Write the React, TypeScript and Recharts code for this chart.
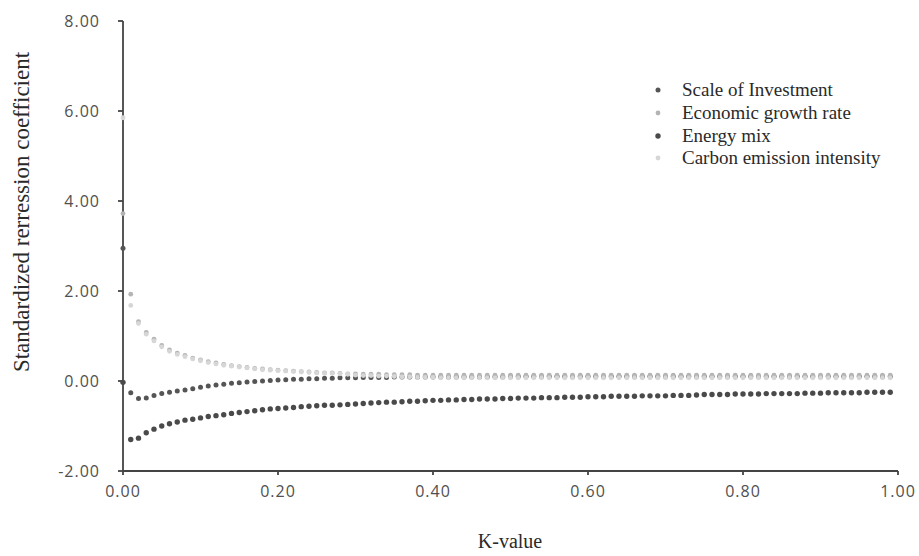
import { ScatterChart, Scatter, XAxis, YAxis } from 'recharts'

// ridge parameter k
const kValues = [
  0.0, 0.01, 0.02, 0.03, 0.04, 0.05, 0.06, 0.07, 0.08, 0.09,
  0.1, 0.11, 0.12, 0.13, 0.14, 0.15, 0.16, 0.17, 0.18, 0.19,
  0.2, 0.21, 0.22, 0.23, 0.24, 0.25, 0.26, 0.27, 0.28, 0.29,
  0.3, 0.31, 0.32, 0.33, 0.34, 0.35, 0.36, 0.37, 0.38, 0.39,
  0.4, 0.41, 0.42, 0.43, 0.44, 0.45, 0.46, 0.47, 0.48, 0.49,
  0.5, 0.51, 0.52, 0.53, 0.54, 0.55, 0.56, 0.57, 0.58, 0.59,
  0.6, 0.61, 0.62, 0.63, 0.64, 0.65, 0.66, 0.67, 0.68, 0.69,
  0.7, 0.71, 0.72, 0.73, 0.74, 0.75, 0.76, 0.77, 0.78, 0.79,
  0.8, 0.81, 0.82, 0.83, 0.84, 0.85, 0.86, 0.87, 0.88, 0.89,
  0.9, 0.91, 0.92, 0.93, 0.94, 0.95, 0.96, 0.97, 0.98, 0.99,
]

const scaleOfInvestment = [
  2.95, -0.26, -0.39, -0.38, -0.32, -0.28, -0.25, -0.22, -0.2, -0.17,
  -0.14, -0.11, -0.09, -0.07, -0.05, -0.04, -0.02, -0.01, 0.0, 0.01,
  0.02, 0.03, 0.04, 0.04, 0.05, 0.05, 0.06, 0.06, 0.07, 0.07,
  0.07, 0.08, 0.08, 0.08, 0.08, 0.09, 0.09, 0.09, 0.09, 0.09,
  0.09, 0.09, 0.09, 0.09, 0.09, 0.09, 0.09, 0.09, 0.09, 0.09,
  0.1, 0.1, 0.1, 0.1, 0.1, 0.1, 0.1, 0.1, 0.1, 0.1,
  0.1, 0.1, 0.1, 0.1, 0.1, 0.1, 0.1, 0.1, 0.1, 0.1,
  0.1, 0.1, 0.1, 0.1, 0.1, 0.1, 0.1, 0.1, 0.1, 0.1,
  0.1, 0.1, 0.1, 0.1, 0.1, 0.1, 0.1, 0.1, 0.1, 0.1,
  0.1, 0.1, 0.1, 0.1, 0.1, 0.1, 0.1, 0.1, 0.1, 0.1,
]

const economicGrowthRate = [
  3.72, 1.93, 1.32, 1.08, 0.93, 0.79, 0.69, 0.62, 0.57, 0.51,
  0.47, 0.43, 0.4, 0.37, 0.34, 0.32, 0.3, 0.28, 0.27, 0.25,
  0.24, 0.23, 0.22, 0.21, 0.2, 0.19, 0.18, 0.18, 0.17, 0.16,
  0.16, 0.15, 0.15, 0.15, 0.14, 0.14, 0.14, 0.14, 0.13, 0.13,
  0.13, 0.13, 0.13, 0.13, 0.13, 0.13, 0.13, 0.13, 0.13, 0.13,
  0.13, 0.13, 0.13, 0.13, 0.13, 0.13, 0.13, 0.13, 0.13, 0.13,
  0.13, 0.13, 0.13, 0.13, 0.13, 0.13, 0.13, 0.13, 0.13, 0.13,
  0.13, 0.13, 0.13, 0.13, 0.13, 0.13, 0.13, 0.13, 0.13, 0.13,
  0.13, 0.13, 0.13, 0.13, 0.13, 0.13, 0.13, 0.13, 0.13, 0.13,
  0.13, 0.13, 0.13, 0.13, 0.13, 0.13, 0.13, 0.13, 0.13, 0.13,
]

const energyMix = [
  -0.03, -1.3, -1.27, -1.15, -1.07, -1.0, -0.95, -0.91, -0.87, -0.85,
  -0.82, -0.79, -0.77, -0.75, -0.72, -0.7, -0.68, -0.66, -0.64, -0.62,
  -0.61, -0.6, -0.59, -0.57, -0.56, -0.55, -0.54, -0.54, -0.53, -0.52,
  -0.51, -0.5, -0.49, -0.48, -0.47, -0.47, -0.46, -0.45, -0.45, -0.44,
  -0.43, -0.43, -0.42, -0.42, -0.41, -0.41, -0.4, -0.4, -0.4, -0.39,
  -0.39, -0.38, -0.38, -0.38, -0.37, -0.37, -0.37, -0.36, -0.36, -0.36,
  -0.35, -0.35, -0.35, -0.34, -0.34, -0.34, -0.34, -0.33, -0.33, -0.33,
  -0.33, -0.32, -0.32, -0.32, -0.31, -0.3, -0.3, -0.3, -0.3, -0.29,
  -0.29, -0.29, -0.29, -0.28, -0.28, -0.28, -0.28, -0.28, -0.27, -0.27,
  -0.27, -0.26, -0.26, -0.26, -0.26, -0.26, -0.25, -0.25, -0.25, -0.25,
]

const carbonEmissionIntensity = [
  5.85, 1.68, 1.28, 1.04, 0.89, 0.76, 0.66, 0.59, 0.54, 0.49,
  0.45, 0.41, 0.38, 0.35, 0.33, 0.31, 0.29, 0.27, 0.25, 0.24,
  0.23, 0.22, 0.21, 0.2, 0.19, 0.18, 0.17, 0.17, 0.16, 0.15,
  0.13, 0.12, 0.12, 0.11, 0.11, 0.1, 0.09, 0.09, 0.08, 0.08,
  0.08, 0.07, 0.07, 0.07, 0.07, 0.07, 0.07, 0.07, 0.07, 0.07,
  0.07, 0.07, 0.07, 0.07, 0.07, 0.07, 0.07, 0.07, 0.07, 0.07,
  0.07, 0.07, 0.07, 0.07, 0.07, 0.07, 0.07, 0.07, 0.07, 0.07,
  0.07, 0.07, 0.07, 0.07, 0.07, 0.07, 0.07, 0.07, 0.07, 0.07,
  0.07, 0.07, 0.07, 0.07, 0.07, 0.07, 0.07, 0.07, 0.07, 0.07,
  0.07, 0.07, 0.07, 0.07, 0.07, 0.07, 0.07, 0.07, 0.07, 0.07,
]

const xTicks = [0, 0.2, 0.4, 0.6, 0.8, 1]
const yTicks = [-2, 0, 2, 4, 6, 8]

// legend order
const SERIES = [
  { name: 'Scale of Investment', values: scaleOfInvestment, color: '#555555', r: 2.5 },
  { name: 'Economic growth rate', values: economicGrowthRate, color: '#b4b4b4', r: 2.4 },
  { name: 'Energy mix', values: energyMix, color: '#4a4a4a', r: 2.7 },
  { name: 'Carbon emission intensity', values: carbonEmissionIntensity, color: '#d6d6d6', r: 2.4 },
]

// dark ones first so the light ones sit on top
const DRAW_ORDER = [0, 2, 1, 3]

const SERIF = '"Liberation Serif", "Times New Roman", serif'
const SANS = '"Open Sans", sans-serif'

const tickStyle = { fill: '#505050', fontSize: 16, fontFamily: SANS, letterSpacing: 1 }
const axisStroke = { stroke: '#444', strokeWidth: 1.8 }

export default function App() {
  return (
    <div style={{ position: 'absolute', left: 0, top: 0, width: 919, height: 556, background: '#fff' }}>
      <ScatterChart width={919} height={556} margin={{ top: 21, right: 21, bottom: 0, left: 0 }}>
        <XAxis
          type="number"
          dataKey="k"
          domain={[0, 1]}
          ticks={xTicks}
          tickFormatter={(v: number) => v.toFixed(2)}
          height={85}
          tick={tickStyle}
          tickSize={4}
          tickMargin={11}
          axisLine={axisStroke}
          tickLine={axisStroke}
          label={() => (
            <text x={510} y={548} textAnchor="middle" fontFamily={SERIF} fontSize={20} fill="#2a2a2a">
              K-value
            </text>
          )}
        />
        <YAxis
          type="number"
          dataKey="v"
          domain={[-2, 8]}
          ticks={yTicks}
          tickFormatter={(v: number) => v.toFixed(2)}
          width={123}
          tick={tickStyle}
          tickSize={5}
          tickMargin={18}
          axisLine={axisStroke}
          tickLine={axisStroke}
          label={() => (
            <text
              x={29}
              y={212}
              transform="rotate(-90 29 212)"
              textAnchor="middle"
              fontFamily={SERIF}
              fontSize={23}
              fill="#2a2a2a"
            >
              Standardized rerression coefficient
            </text>
          )}
        />
        {DRAW_ORDER.map((i) => {
          const s = SERIES[i]
          const data = kValues.map((k, j) => ({ k, v: s.values[j] }))
          return (
            <Scatter
              key={s.name}
              name={s.name}
              data={data}
              isAnimationActive={false}
              shape={(p: any) => <circle cx={p.cx} cy={p.cy} r={s.r} fill={s.color} />}
            />
          )
        })}
      </ScatterChart>
      <div style={{ position: 'absolute', left: 650, top: 79, fontFamily: SERIF, fontSize: 19, color: '#2a2a2a' }}>
        {SERIES.map((s) => (
          <div key={s.name} style={{ display: 'flex', alignItems: 'center', height: 22.7 }}>
            <svg width={32} height={10}>
              <circle cx={8} cy={5} r={s.r} fill={s.color} />
            </svg>
            <span>{s.name}</span>
          </div>
        ))}
      </div>
    </div>
  )
}
